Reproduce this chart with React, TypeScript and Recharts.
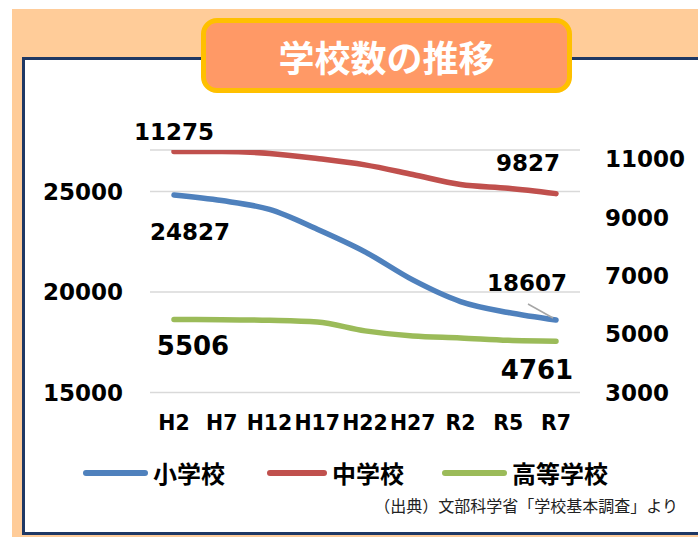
import React from 'react';
import { LineChart, Line, XAxis, YAxis, CartesianGrid, LabelList } from 'recharts';

const categories = ['H2', 'H7', 'H12', 'H17', 'H22', 'H27', 'R2', 'R5', 'R7'];
const elementary = [24827, 24548, 24106, 23123, 22000, 20601, 19525, 18980, 18607];
const juniorHigh = [11275, 11274, 11209, 11035, 10815, 10484, 10142, 10012, 9827];
const highSchool = [5506, 5501, 5478, 5418, 5116, 4939, 4874, 4791, 4761];
const seriesNames = ['小学校', '中学校', '高等学校'];
const leftTicks = [15000, 20000, 25000];
const rightTicks = [3000, 5000, 7000, 9000, 11000];
const titleText = '学校数の推移';
const sourceText = '（出典）文部科学省「学校基本調査」より';

const data = categories.map((c, i) => ({
  name: c,
  elementary: elementary[i],
  junior: juniorHigh[i],
  high: highSchool[i],
}));

const NUM_FONT = '"DejaVu Sans", Verdana, sans-serif';
const JP_FONT = '"Noto Sans CJK JP", "Noto Sans", sans-serif';
const BLUE = '#4F81BD';
const RED = '#C0504D';
const GREEN = '#9BBB59';

const LeftTick = (p: any) => (
  <text x={p.x} y={p.y} textAnchor="end" dominantBaseline="central" fontFamily={NUM_FONT} fontSize={23} fontWeight="bold" fill="#000">
    {p.payload.value}
  </text>
);
const RightTick = (p: any) => (
  <text x={p.x} y={p.y} textAnchor="start" dominantBaseline="central" fontFamily={NUM_FONT} fontSize={23} fontWeight="bold" fill="#000">
    {p.payload.value}
  </text>
);
const BottomTick = (p: any) => (
  <g transform={`translate(${p.x},${p.y}) scale(0.93,1)`}>
    <text x={0} y={0} textAnchor="middle" dominantBaseline="central" fontFamily={NUM_FONT} fontSize={22} fontWeight="bold" fill="#000">
      {p.payload.value}
    </text>
  </g>
);

type Cfg = { dx: number; dy: number; size: number; leader?: boolean };

const makeEndLabel = (values: number[], first: Cfg, last: Cfg) => (props: any) => {
  const x = props.x ?? props.viewBox?.x;
  const y = props.y ?? props.viewBox?.y;
  const value = props.value;
  let idx = props.index;
  if (idx === undefined || idx === null) idx = values.indexOf(value);
  let cfg: Cfg | null = null;
  if (idx === 0) cfg = first;
  else if (idx === values.length - 1) cfg = last;
  if (!cfg || x === undefined || y === undefined) return null;
  return (
    <g>
      {cfg.leader && <line x1={x - 28} y1={y - 16} x2={x - 3} y2={y - 2} stroke="#a6a6a6" strokeWidth={1.5} />}
      <text x={x + cfg.dx} y={y + cfg.dy} textAnchor="middle" dominantBaseline="central" fontFamily={NUM_FONT} fontSize={cfg.size} fontWeight="bold" fill="#000">
        {value}
      </text>
    </g>
  );
};

const legendItems = [
  { name: seriesNames[0], color: BLUE, left: 83, lineW: 65 },
  { name: seriesNames[1], color: RED, left: 267, lineW: 60 },
  { name: seriesNames[2], color: GREEN, left: 442, lineW: 65 },
];

export default function App() {
  return (
    <div style={{ position: 'absolute', left: 0, top: 0, width: 698, height: 537, overflow: 'hidden', background: '#fff' }}>
      <div style={{ position: 'absolute', left: 12, top: 9, width: 686, height: 528, background: '#FFCC99' }} />
      <div
        style={{
          position: 'absolute',
          left: 22,
          top: 57,
          width: 720,
          height: 478,
          background: '#fff',
          border: '3px solid #1F3864',
          boxSizing: 'border-box',
        }}
      />
      <div style={{ position: 'absolute', left: 0, top: 0 }}>
        <LineChart width={698} height={537} data={data} margin={{ top: 150, right: 0, bottom: 104.5, left: 0 }}>
          <CartesianGrid yAxisId="left" vertical={false} stroke="#d9d9d9" strokeWidth={1.5} />
          <XAxis
            dataKey="name"
            axisLine={false}
            tickLine={false}
            tickSize={0}
            tickMargin={30}
            height={40}
            interval={0}
            padding={{ left: 24, right: 24 }}
            tick={<BottomTick />}
          />
          <YAxis
            yAxisId="left"
            orientation="left"
            width={150}
            domain={[15000, 27065]}
            ticks={leftTicks}
            allowDataOverflow
            axisLine={false}
            tickLine={false}
            tickSize={0}
            tickMargin={27}
            tick={<LeftTick />}
          />
          <YAxis
            yAxisId="right"
            orientation="right"
            width={118}
            domain={[3000, 11326]}
            ticks={rightTicks}
            allowDataOverflow
            axisLine={false}
            tickLine={false}
            tickSize={0}
            tickMargin={25}
            tick={<RightTick />}
          />
          <Line
            yAxisId="right"
            type="monotone"
            dataKey="junior"
            name={seriesNames[1]}
            stroke={RED}
            strokeWidth={5.5}
            strokeLinecap="round"
            dot={false}
            activeDot={false}
            isAnimationActive={false}
          >
            <LabelList dataKey="junior" content={makeEndLabel(juniorHigh, { dx: 0, dy: -19, size: 23 }, { dx: -28, dy: -31, size: 23 })} />
          </Line>
          <Line
            yAxisId="right"
            type="monotone"
            dataKey="high"
            name={seriesNames[2]}
            stroke={GREEN}
            strokeWidth={5.5}
            strokeLinecap="round"
            dot={false}
            activeDot={false}
            isAnimationActive={false}
          >
            <LabelList dataKey="high" content={makeEndLabel(highSchool, { dx: 19, dy: 26, size: 26 }, { dx: -19, dy: 29, size: 26 })} />
          </Line>
          <Line
            yAxisId="left"
            type="monotone"
            dataKey="elementary"
            name={seriesNames[0]}
            stroke={BLUE}
            strokeWidth={5.5}
            strokeLinecap="round"
            dot={false}
            activeDot={false}
            isAnimationActive={false}
          >
            <LabelList dataKey="elementary" content={makeEndLabel(elementary, { dx: 16, dy: 37, size: 23 }, { dx: -29, dy: -37, size: 23, leader: true })} />
          </Line>
        </LineChart>
      </div>
      {legendItems.map((it) => (
        <div key={it.name} style={{ position: 'absolute', left: it.left, top: 458, height: 30, display: 'flex', alignItems: 'center' }}>
          <div style={{ width: it.lineW, height: 6, borderRadius: 3, background: it.color }} />
          <span style={{ marginLeft: 5, fontFamily: JP_FONT, fontWeight: 'bold', fontSize: 24, color: '#000', lineHeight: '30px' }}>{it.name}</span>
        </div>
      ))}
      <div
        style={{
          position: 'absolute',
          right: 20,
          top: 493,
          fontFamily: JP_FONT,
          fontSize: 16,
          color: '#222',
          lineHeight: '24px',
          whiteSpace: 'nowrap',
        }}
      >
        {sourceText}
      </div>
      <div
        style={{
          position: 'absolute',
          left: 201,
          top: 18,
          width: 371,
          height: 75,
          background: '#FF9966',
          border: '5px solid #FFC000',
          borderRadius: 16,
          boxSizing: 'border-box',
          display: 'flex',
          alignItems: 'center',
          justifyContent: 'center',
          color: '#fff',
          fontFamily: JP_FONT,
          fontWeight: 'bold',
          fontSize: 36,
          lineHeight: '40px',
        }}
      >
        {titleText}
      </div>
    </div>
  );
}
